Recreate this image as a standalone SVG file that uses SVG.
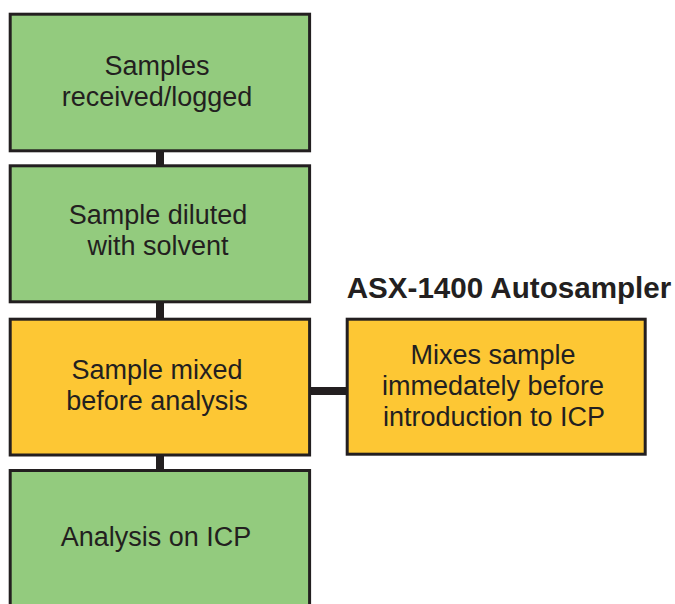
<svg xmlns="http://www.w3.org/2000/svg" width="675" height="604" viewBox="0 0 675 604">
<style>
.box{stroke:#231f20;stroke-width:3}
.green{fill:#93cb7e}
.yellow{fill:#fdc734}
.t{font-family:"Liberation Sans",Arial,sans-serif;font-size:27px;fill:#231f20;text-anchor:middle}
.title{font-family:"Liberation Sans",Arial,sans-serif;font-size:29.6px;font-weight:bold;fill:#231f20}
.conn{stroke:#231f20;stroke-width:8;fill:none}
</style>
<rect width="675" height="604" fill="#ffffff"/>
<g id="connectors">
<line class="conn" x1="160" y1="151" x2="160" y2="166"/>
<line class="conn" x1="160" y1="302" x2="160" y2="319"/>
<line class="conn" x1="160" y1="455" x2="160" y2="470"/>
<line class="conn" x1="310" y1="391" x2="347" y2="391"/>
</g>
<g id="node1">
<rect class="box green" x="10.2" y="14.2" width="299.4" height="136.6"/>
<text class="t" x="157" y="75">Samples</text>
<text class="t" x="157" y="105.7">received/logged</text>
</g>
<g id="node2">
<rect class="box green" x="10.2" y="165.8" width="299.4" height="136"/>
<text class="t" x="158" y="224.3">Sample diluted</text>
<text class="t" x="158" y="255">with solvent</text>
</g>
<g id="node3">
<rect class="box yellow" x="10.2" y="319.2" width="299.4" height="135.8"/>
<text class="t" x="157" y="379.3">Sample mixed</text>
<text class="t" x="157" y="410">before analysis</text>
</g>
<g id="node4">
<rect class="box green" x="10.2" y="470.5" width="299.4" height="150"/>
<text class="t" x="156" y="546">Analysis on ICP</text>
</g>
<g id="node5">
<text class="title" x="346.7" y="298.3">ASX-1400 Autosampler</text>
<rect class="box yellow" x="347.2" y="319.2" width="298" height="135"/>
<text class="t" x="493" y="364.3">Mixes sample</text>
<text class="t" x="493" y="395">immedately before</text>
<text class="t" x="494" y="426">introduction to ICP</text>
</g>
</svg>
